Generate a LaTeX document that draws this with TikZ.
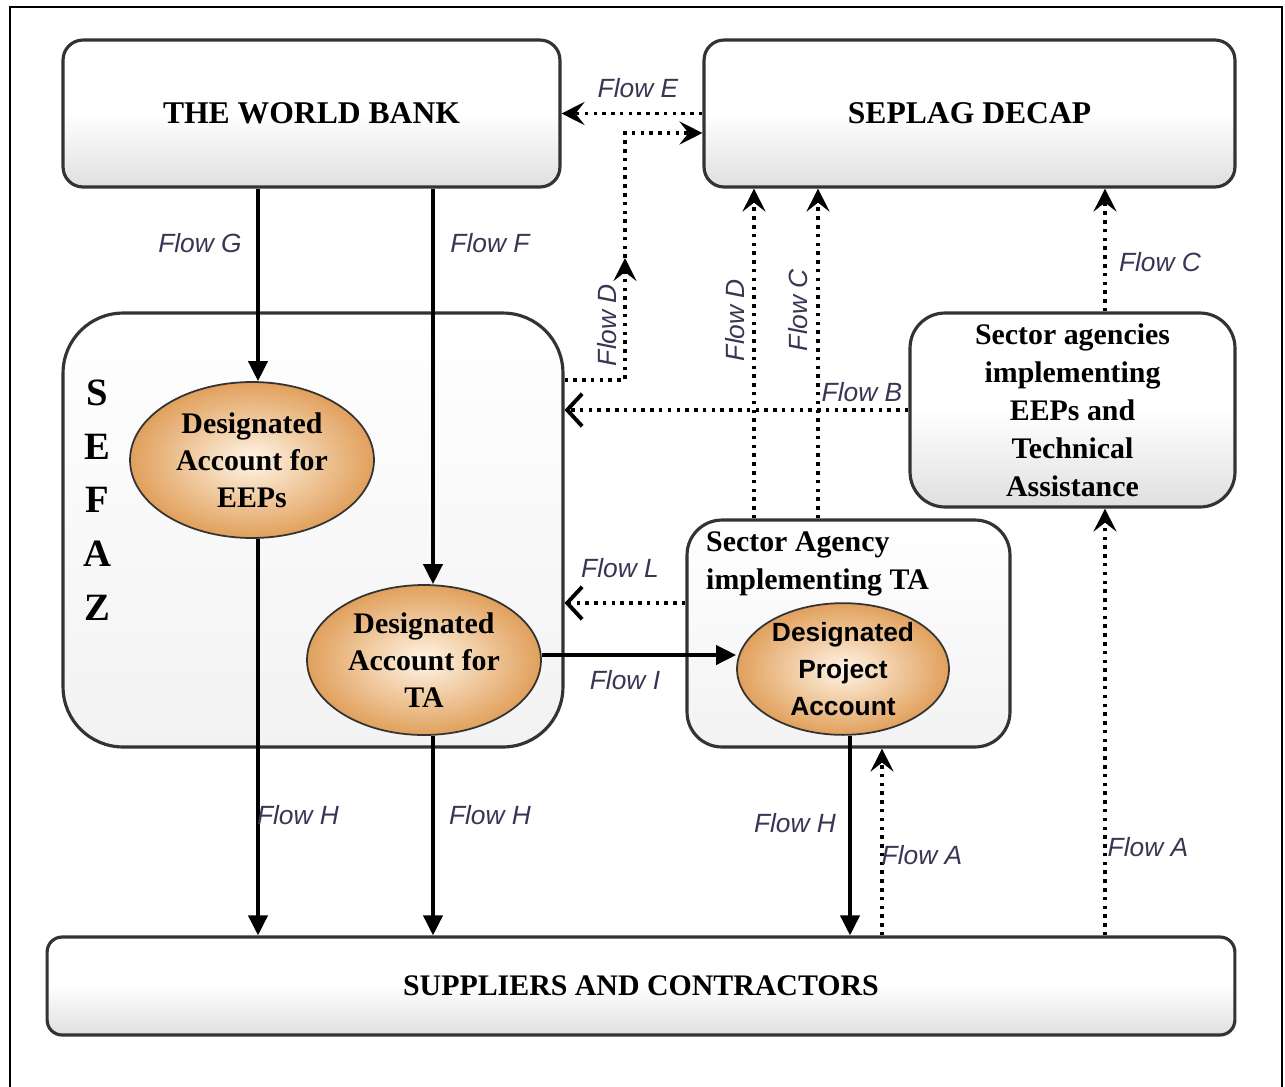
\documentclass[tikz,border=0pt]{standalone}
\usepackage{fontspec}
\setmainfont{Liberation Serif}
\newfontfamily\arialfont{Liberation Sans}
\usetikzlibrary{arrows.meta,shapes.geometric}
\definecolor{flowtxt}{RGB}{55,55,85}
\definecolor{acctin}{RGB}{255,245,230}
\definecolor{acctout}{RGB}{225,160,92}

\begin{document}
\begin{tikzpicture}[x=0.02cm, y=-0.02cm,
  box/.style={draw=black!80, line width=1.8pt, rounded corners=0.4cm, top color=white, bottom color=gray!25, middle color=white, font=\fontsize{18}{22}\selectfont\bfseries, align=center},
  acct/.style={ellipse, draw=black!80, line width=1pt, inner color=acctin, outer color=acctout, font=\fontsize{17}{21}\selectfont\bfseries, align=center, inner sep=0pt},
  flow/.style={line width=2.2pt, -{Triangle[length=4mm,width=3.8mm]}},
  dots/.style={line width=2.2pt, dash pattern=on 2pt off 3pt, -{Stealth[length=4.6mm,width=4.6mm,inset=1.8mm]}},
  barb/.style={line width=2.2pt, dash pattern=on 2pt off 3pt, -{Straight Barb[length=3mm,width=6.5mm]}},
  lbl/.style={font=\arialfont\itshape\fontsize{15}{15}\selectfont, text=flowtxt},
]
  \useasboundingbox (0,0) rectangle (1285,1086);
  \draw[line width=1pt] (10,7) rectangle (1282,1095);

  \node[box, minimum width=9.94cm, minimum height=2.94cm] (wb) at (311.5,113.5) {THE WORLD BANK};
  \node[box, minimum width=10.62cm, minimum height=2.94cm] (seplag) at (969.5,113.5) {SEPLAG DECAP};
  \node[box, minimum width=10cm, minimum height=8.68cm, rounded corners=1.2cm, bottom color=gray!10] (sefaz) at (313,530) {};
  \node[box, minimum width=6.5cm, minimum height=3.88cm, rounded corners=0.7cm, font=\fontsize{17}{21.6}\selectfont\bfseries] (agencies) at (1072.5,410)
    {Sector agencies\\implementing\\EEPs and\\Technical\\Assistance};
  \node[box, minimum width=6.46cm, minimum height=4.54cm, rounded corners=0.7cm, bottom color=gray!10] (tabox) at (848.5,633.5) {};
  \node[box, minimum width=23.76cm, minimum height=1.96cm, rounded corners=0.3cm, font=\fontsize{17}{20}\selectfont\bfseries] (sup) at (641,986) {SUPPLIERS AND CONTRACTORS};

  \node[font=\fontsize{22}{30.6}\selectfont\bfseries, align=center] (sefaztxt) at (97,500) {S\\E\\F\\A\\Z};
  \node[anchor=west, align=left, font=\fontsize{17}{21.6}\selectfont\bfseries] (tatxt) at (700,564) {Sector Agency\\implementing TA};

  \node[acct, minimum width=4.88cm, minimum height=3.12cm] (eep) at (252,460) {Designated\\Account for\\EEPs};
  \node[acct, minimum width=4.68cm, minimum height=3cm] (accta) at (424,660) {Designated\\Account for\\TA};
  \node[acct, minimum width=4.24cm, minimum height=2.56cm, font=\arialfont\bfseries\fontsize{15}{21}\selectfont] (proj) at (843,669) {Designated\\Project\\Account};

  \coordinate (dlow) at (625,380);
  \coordinate (dmid) at (625,258);
  \coordinate (dtop) at (625,133);
  \coordinate (lrow) at (0,603);
  \coordinate (irow) at ([yshift=0.1cm]accta.east);
  \coordinate (cold) at (754,0);
  \coordinate (colc) at (818,0);
  \coordinate (cola) at (882,0);
  \coordinate (colr) at (1105,0);

  \draw[flow] (wb.south -| eep.north) ++(0.12cm,0) -- ([xshift=0.12cm]eep.north);
  \draw[flow] (wb.south -| accta.north) ++(0.18cm,0) -- ([xshift=0.18cm]accta.north);
  \draw[flow] ([xshift=0.12cm]eep.south) -- ([xshift=0.12cm]eep.south |- sup.north);
  \draw[flow] ([xshift=0.18cm]accta.south) -- ([xshift=0.18cm]accta.south |- sup.north);
  \draw[flow] ([xshift=0.14cm]proj.south) -- ([xshift=0.14cm]proj.south |- sup.north);
  \draw[flow] (irow) -- (proj.west |- irow);

  \draw[dots] (seplag.west) -- (wb.east);
  \draw[dots] (sefaz.east |- dlow) -- (dlow) -- (dmid);
  \draw[dots] (dmid) -- (dtop) -- (seplag.west |- dtop);
  \draw[dots] (tabox.north -| cold) -- (seplag.south -| cold);
  \draw[dots] (tabox.north -| colc) -- (seplag.south -| colc);
  \draw[dots] (agencies.north -| colr) -- (seplag.south -| colr);
  \draw[dots] (sup.north -| cola) -- (tabox.south -| cola);
  \draw[dots] (sup.north -| colr) -- (agencies.south -| colr);
  \draw[barb] (agencies.west) -- (sefaz.east |- agencies.west);
  \draw[barb] (tabox.west |- lrow) -- (sefaz.east |- lrow);

  \node[lbl] (le) at (638,88) {Flow E};
  \node[lbl] (lg) at (200,243) {Flow G};
  \node[lbl] (lf) at (490,243) {Flow F};
  \node[lbl, rotate=90] (ld1) at (607,325) {Flow D};
  \node[lbl, rotate=90] (ld2) at (735,320) {Flow D};
  \node[lbl, rotate=90] (lc1) at (798,310) {Flow C};
  \node[lbl] (lc2) at (1160,262) {Flow C};
  \node[lbl] (lb) at (862,392) {Flow B};
  \node[lbl] (ll) at (620,568) {Flow L};
  \node[lbl] (li) at (625,680) {Flow I};
  \node[lbl] (lh1) at (298,815) {Flow H};
  \node[lbl] (lh2) at (490,815) {Flow H};
  \node[lbl] (lh3) at (795,823) {Flow H};
  \node[lbl] (la1) at (922,855) {Flow A};
  \node[lbl] (la2) at (1148,847) {Flow A};
\end{tikzpicture}
\end{document}
